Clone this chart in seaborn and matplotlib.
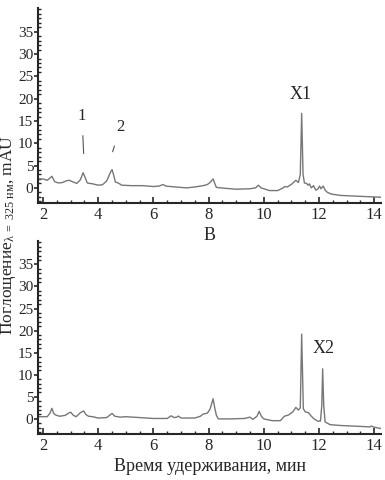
import matplotlib
matplotlib.use("Agg")
import matplotlib.pyplot as plt
from matplotlib.ticker import MultipleLocator
import pandas as pd
import seaborn as sns

# chromatogram B (top panel)
time_b = [1.82, 2.0, 2.15, 2.25, 2.32, 2.42, 2.55, 2.7, 2.85, 2.95, 3.1, 3.22, 3.35, 3.45,
          3.52, 3.6, 3.8, 4.0, 4.15, 4.3, 4.45, 4.5, 4.56, 4.62, 4.72, 4.85, 5.2, 5.6, 6.0,
          6.2, 6.35, 6.45, 6.8, 7.2, 7.5, 7.8, 7.95, 8.05, 8.16, 8.22, 8.28, 8.6, 9.0, 9.5,
          9.7, 9.8, 9.9, 10.2, 10.5, 10.7, 10.75, 10.85, 11.0, 11.16, 11.25, 11.32, 11.37,
          11.42, 11.47, 11.55, 11.6, 11.65, 11.72, 11.8, 11.88, 11.95, 12.02, 12.07, 12.15,
          12.22, 12.3, 12.45, 12.8, 13.5, 14.25]
absorb_b = [2.0, 2.0, 1.7, 2.2, 2.6, 1.4, 1.1, 1.2, 1.6, 1.7, 1.3, 1.0, 1.8, 3.4,
            2.4, 1.1, 0.9, 0.6, 0.7, 1.5, 3.6, 4.1, 2.8, 1.3, 1.1, 0.6, 0.5, 0.5, 0.3,
            0.4, 0.75, 0.4, 0.2, 0.0, 0.2, 0.5, 0.75, 1.2, 2.0, 1.0, 0.1, -0.1, -0.3, -0.2,
            0.0, 0.6, 0.0, -0.6, -0.6, 0.0, 0.3, 0.2, 0.8, 1.7, 1.2, 3.0, 16.7,
            3.0, 1.1, 1.0, 0.6, 0.9, 0.0, 0.5, -0.5, -0.3, 0.4, -0.2, 0.4,
            -0.5, -1.0, -1.4, -1.7, -1.9, -2.1]

# second chromatogram (bottom panel)
time_c = [1.82, 2.15, 2.25, 2.32, 2.38, 2.45, 2.6, 2.8, 2.95, 3.0, 3.1, 3.2, 3.35, 3.47,
          3.55, 3.65, 3.8, 4.0, 4.3, 4.45, 4.5, 4.6, 4.8, 5.0, 5.5, 6.0, 6.5, 6.64, 6.75,
          6.85, 6.9, 7.0, 7.5, 7.7, 7.8, 7.95, 8.05, 8.16, 8.22, 8.28, 8.35, 8.8, 9.3,
          9.49, 9.6, 9.75, 9.83, 9.92, 10.0, 10.3, 10.6, 10.74, 10.9, 11.05, 11.16, 11.25,
          11.32, 11.37, 11.43, 11.5, 11.62, 11.72, 11.82, 11.95, 12.05, 12.1, 12.13, 12.17,
          12.22, 12.4, 12.8, 13.5, 13.85, 13.9, 13.95, 14.25]
absorb_c = [0.5, 0.5, 1.3, 2.4, 1.3, 0.9, 0.6, 0.8, 1.4, 1.5, 0.8, 0.5, 1.4, 1.8,
            1.0, 0.6, 0.5, 0.2, 0.3, 1.0, 1.25, 0.6, 0.4, 0.5, 0.3, 0.1, 0.1, 0.7, 0.3,
            0.4, 0.65, 0.2, 0.2, 0.6, 1.1, 1.3, 2.2, 4.55, 2.5, 0.8, 0.0, 0.0, 0.1,
            0.4, -0.1, 0.6, 1.7, 0.5, 0.0, -0.4, -0.4, 0.6, 0.9, 1.6, 2.6, 2.0,
            2.5, 19.2, 2.3, 1.6, 1.4, 0.6, 0.0, -0.5, -0.5, 3.0, 11.35, 3.0,
            -0.7, -1.3, -1.5, -1.7, -1.8, -1.6, -1.8, -2.2]

sns.set_style("ticks")
plt.rcParams['font.family'] = ['Liberation Serif', 'DejaVu Serif']
plt.rcParams['mathtext.fontset'] = 'custom'
plt.rcParams['mathtext.rm'] = 'Liberation Serif'
plt.rcParams['mathtext.it'] = 'Liberation Serif:italic'

fig = plt.figure(figsize=(3.85, 4.8), dpi=100)
ax_top = fig.add_axes([0.099, 0.577, 0.891, 0.406])
ax_bot = fig.add_axes([0.099, 0.096, 0.891, 0.402])

df_b = pd.DataFrame({"t": time_b, "a": absorb_b})
df_c = pd.DataFrame({"t": time_c, "a": absorb_c})

for ax, df in [(ax_top, df_b), (ax_bot, df_c)]:
    sns.lineplot(data=df, x="t", y="a", ax=ax, color="#777777", lw=1.0,
                 sort=False, estimator=None)
    ax.set_xlim(1.82, 14.25)
    ax.set_ylim(-3.4, 40.3)
    ax.xaxis.set_major_locator(MultipleLocator(2))
    ax.xaxis.set_minor_locator(MultipleLocator(0.5))
    ax.yaxis.set_minor_locator(MultipleLocator(1))
    ax.set_yticks([0, 5, 10, 15, 20, 25, 30, 35])
    ax.tick_params(axis='x', which='major', direction='in', length=4, width=1.2,
                   labelsize=12, pad=3)
    ax.tick_params(axis='x', which='minor', direction='in', length=2.5, width=1)
    ax.tick_params(axis='y', which='major', direction='out', length=3, width=1.2,
                   labelsize=11, pad=0.5)
    ax.tick_params(axis='y', which='minor', direction='in', length=2, width=1)
    for s in ['left', 'bottom']:
        ax.spines[s].set_linewidth(1.5)
    sns.despine(ax=ax)
    ax.set_ylabel("")

ax_top.set_xlabel("В", fontsize=13, labelpad=3)
ax_bot.set_xlabel("Время удерживания, мин", fontsize=13, labelpad=3)

# peak labels
ax_top.annotate("1", xy=(3.47, 7.7), xytext=(3.41, 16.1), ha='center', va='center',
                fontsize=12, arrowprops=dict(arrowstyle='-', color='#555555', lw=0.8,
                                             shrinkA=6, shrinkB=0))
ax_top.annotate("2", xy=(4.52, 8.1), xytext=(4.8, 13.7), ha='center', va='center',
                fontsize=12, arrowprops=dict(arrowstyle='-', color='#555555', lw=0.8,
                                             shrinkA=6, shrinkB=0))
ax_top.text(11.32, 21.0, "X1", ha='center', va='center', fontsize=13)
ax_bot.text(12.17, 16.0, "X2", ha='center', va='center', fontsize=13)

fig.text(0.022, 0.51, r"Поглощение$_{\mathrm{\lambda\ =\ 325\ нм}}$, mAU", rotation=90,
         ha='center', va='center', fontsize=12.5)

plt.savefig("out.png", dpi=100)
